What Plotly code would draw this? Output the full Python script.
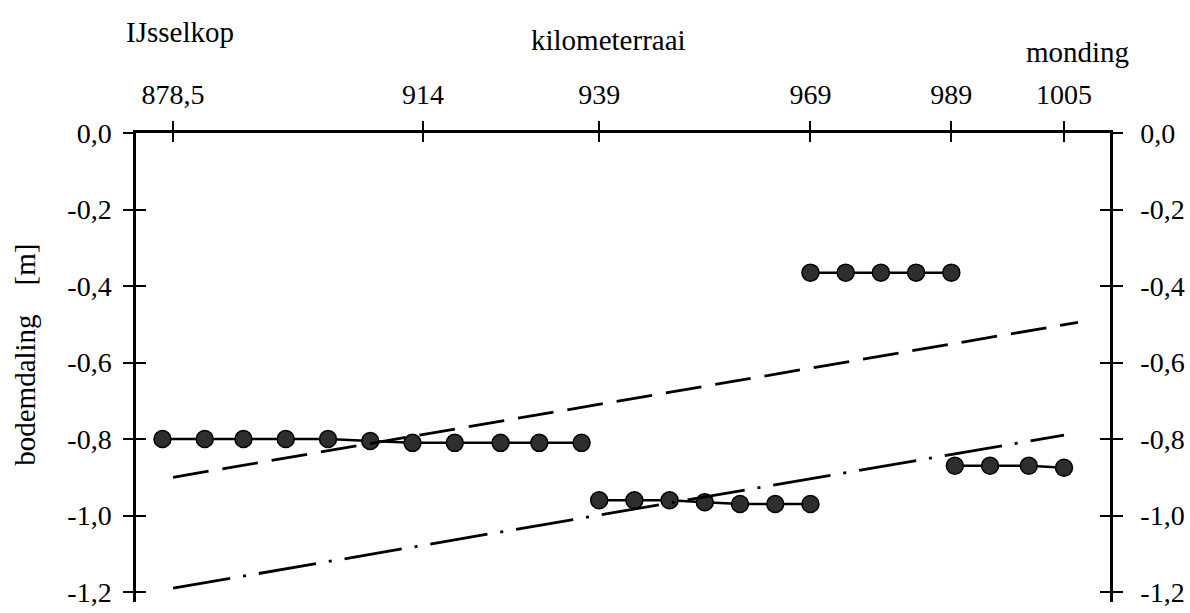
import plotly.graph_objects as go

# River kilometre ticks along the top axis
km_ticks = [878.5, 914, 939, 969, 989, 1005]
km_labels = ["878,5", "914", "939", "969", "989", "1005"]

# Bed-level drop ticks (m)
depth_ticks = [0.0, -0.2, -0.4, -0.6, -0.8, -1.0, -1.2]
depth_labels = ["0,0", "-0,2", "-0,4", "-0,6", "-0,8", "-1,0", "-1,2"]

# Measured bed-level drop per river section
sec1_km = [877, 883, 888.5, 894.5, 900.5, 906.5, 912.5, 918.5, 925, 930.5, 936.5]
sec1_drop = [-0.80, -0.80, -0.80, -0.80, -0.80, -0.805, -0.81, -0.81, -0.81, -0.81, -0.81]

sec2_km = [939, 944, 949, 954, 959, 964, 969]
sec2_drop = [-0.96, -0.96, -0.96, -0.965, -0.97, -0.97, -0.97]

sec3_km = [969, 974, 979, 984, 989]
sec3_drop = [-0.365, -0.365, -0.365, -0.365, -0.365]

sec4_km = [989.5, 994.5, 1000, 1005]
sec4_drop = [-0.87, -0.87, -0.87, -0.875]

# Linear trend lines (start / end)
trend_a_km = [878.5, 1007]
trend_a_drop = [-0.90, -0.495]
trend_b_km = [878.5, 1005]
trend_b_drop = [-1.19, -0.79]

FONT = "Liberation Serif"
X_RANGE = [873.24, 1011.53]
Y_RANGE = [-1.226, 0.0]

fig = go.Figure()

for xs, ys in [(sec1_km, sec1_drop), (sec2_km, sec2_drop),
               (sec3_km, sec3_drop), (sec4_km, sec4_drop)]:
    fig.add_trace(go.Scatter(
        x=xs, y=ys, mode="lines+markers",
        line=dict(color="black", width=2.5),
        marker=dict(size=17, color="#2e2e2e", line=dict(color="black", width=1.5)),
        showlegend=False, hoverinfo="skip",
    ))

fig.add_trace(go.Scatter(
    x=trend_a_km, y=trend_a_drop, mode="lines",
    line=dict(color="black", width=2.8, dash="36px,14px"),
    showlegend=False, hoverinfo="skip",
))
fig.add_trace(go.Scatter(
    x=trend_b_km, y=trend_b_drop, mode="lines",
    line=dict(color="black", width=2.8, dash="58px,13px,3px,13px"),
    showlegend=False, hoverinfo="skip",
))

# empty traces so the companion axes (inner tick halves, right axis) are drawn
for xa, ya in [("x2", "y"), ("x", "y2"), ("x", "y3"), ("x", "y4")]:
    fig.add_trace(go.Scatter(x=[], y=[], xaxis=xa, yaxis=ya,
                             showlegend=False, hoverinfo="skip"))

tick_font = dict(family=FONT, size=28, color="black")
common_y = dict(range=Y_RANGE, tickvals=depth_ticks, ticktext=depth_labels,
                showgrid=False, zeroline=False, tickcolor="black", tickwidth=2,
                ticklen=10, fixedrange=True, automargin=False)

fig.update_layout(
    width=1190, height=613,
    margin=dict(l=136, r=80, t=133, b=11, autoexpand=False),
    paper_bgcolor="white", plot_bgcolor="white",
    font=dict(family=FONT, size=28, color="black"),
    xaxis=dict(
        range=X_RANGE, side="top", anchor="y", automargin=False,
        tickvals=km_ticks, ticktext=km_labels, tickfont=tick_font,
        ticks="outside", ticklen=9, tickwidth=2, tickcolor="black",
        ticklabelstandoff=6,
        showline=True, linecolor="black", linewidth=2.5,
        showgrid=False, zeroline=False, fixedrange=True,
    ),
    xaxis2=dict(
        range=X_RANGE, side="top", anchor="y", overlaying="x", automargin=False,
        tickvals=km_ticks, showticklabels=False,
        ticks="inside", ticklen=9, tickwidth=2, tickcolor="black",
        showline=False, showgrid=False, zeroline=False, fixedrange=True,
    ),
    yaxis=dict(
        **common_y, side="left", anchor="x", tickfont=tick_font,
        ticks="outside", ticklabelstandoff=6,
        showline=True, linecolor="black", linewidth=2.5,
    ),
    yaxis3=dict(
        **common_y, side="left", anchor="x", overlaying="y",
        ticks="inside", showticklabels=False, showline=False,
    ),
    yaxis2=dict(
        **common_y, side="right", anchor="x", overlaying="y", tickfont=tick_font,
        ticks="outside", ticklabelstandoff=12,
        showline=True, linecolor="black", linewidth=2.5,
    ),
    yaxis4=dict(
        **common_y, side="right", anchor="x", overlaying="y",
        ticks="inside", showticklabels=False, showline=False,
    ),
)

label_font = dict(family=FONT, size=29, color="black")
fig.add_annotation(text="IJsselkop", x=0.045, y=1.215, xref="paper", yref="paper",
                   showarrow=False, font=label_font, xanchor="center", yanchor="middle")
fig.add_annotation(text="kilometerraai", x=0.485, y=1.198, xref="paper", yref="paper",
                   showarrow=False, font=label_font, xanchor="center", yanchor="middle")
fig.add_annotation(text="monding", x=0.967, y=1.173, xref="paper", yref="paper",
                   showarrow=False, font=label_font, xanchor="center", yanchor="middle")
fig.add_annotation(text="bodemdaling\u00a0\u00a0\u00a0\u00a0[m]", x=-0.114, y=0.527,
                   xref="paper", yref="paper", textangle=-90, showarrow=False,
                   font=label_font, xanchor="center", yanchor="middle")

fig.write_html("out.html")
